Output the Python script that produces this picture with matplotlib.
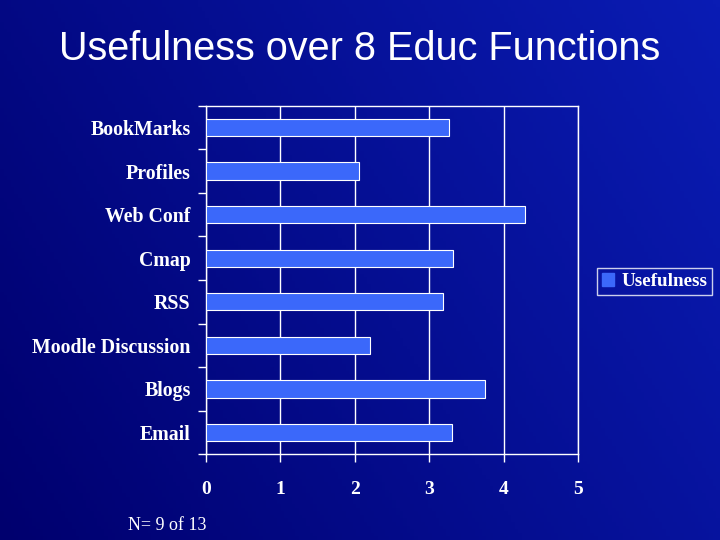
import numpy as np
import matplotlib
matplotlib.use('Agg')
import matplotlib.pyplot as plt
import matplotlib.ticker as ticker
from matplotlib.patches import Patch

# data
categories = ['BookMarks', 'Profiles', 'Web Conf', 'Cmap', 'RSS',
              'Moodle Discussion', 'Blogs', 'Email']
usefulness = [3.26, 2.05, 4.28, 3.32, 3.19, 2.21, 3.75, 3.30]
xticks = [0, 1, 2, 3, 4, 5]

fig = plt.figure(figsize=(7.2, 5.4), dpi=100)

# background gradient (slide look)
bg = fig.add_axes([0, 0, 1, 1])
gx, gy = np.meshgrid(np.linspace(0, 1, 200), np.linspace(0, 1, 150))
grad = 0.55 * gx + 0.25 * (1 - gy)
bg.imshow(grad, cmap=matplotlib.colors.LinearSegmentedColormap.from_list(
    'slide', ['#00006e', '#0a1cb4']), aspect='auto', extent=[0, 1, 0, 1])
bg.axis('off')

ax = fig.add_axes([0.286, 0.159, 0.517, 0.645])
ax.set_facecolor('none')

y = np.arange(len(categories))
ax.barh(y, usefulness, height=0.4, color='#3b68fa', edgecolor='white',
        linewidth=0.8, zorder=3, label='Usefulness')

ax.set_xlim(0, 5)
ax.set_ylim(len(categories) - 0.5, -0.5)
ax.set_xticks(xticks)
ax.set_xticklabels([str(t) for t in xticks], fontsize=14, color='white',
                   family='Liberation Serif', fontweight='bold')
ax.set_yticks(y)
ax.set_yticklabels(categories, fontsize=14.3, color='white',
                   family='Liberation Serif', fontweight='bold')
ax.yaxis.set_minor_locator(ticker.FixedLocator(np.arange(-0.5, len(categories), 1)))
ax.tick_params(axis='y', which='major', length=0, pad=11)
ax.tick_params(axis='y', which='minor', length=6, width=1, color='white')
ax.tick_params(axis='x', which='major', length=6, width=1, color='white', pad=13)

ax.grid(axis='x', color='white', linewidth=1, zorder=1)
for s in ax.spines.values():
    s.set_color('white')
    s.set_linewidth(1)

leg = ax.legend(handles=[Patch(facecolor='#3b68fa', edgecolor='#3b68fa')],
                labels=['Usefulness'], loc='center left',
                bbox_to_anchor=(1.051, 0.496), frameon=True, fancybox=False,
                handlelength=0.65, handleheight=0.65, handletextpad=0.35,
                borderpad=0.25, borderaxespad=0,
                prop={'family': 'Liberation Serif', 'weight': 'bold',
                      'size': 13.8})
leg.get_frame().set_facecolor('none')
leg.get_frame().set_edgecolor('white')
leg.get_frame().set_linewidth(1)
for t in leg.get_texts():
    t.set_color('white')

fig.text(0.5, 0.91, 'Usefulness over 8 Educ Functions', ha='center',
         va='center', color='white', fontsize=28.5, family='Liberation Sans')
fig.text(0.178, 0.027, 'N= 9 of 13', ha='left', va='center', color='white',
         fontsize=13, family='Liberation Serif')

fig.savefig('out.png', dpi=100)
